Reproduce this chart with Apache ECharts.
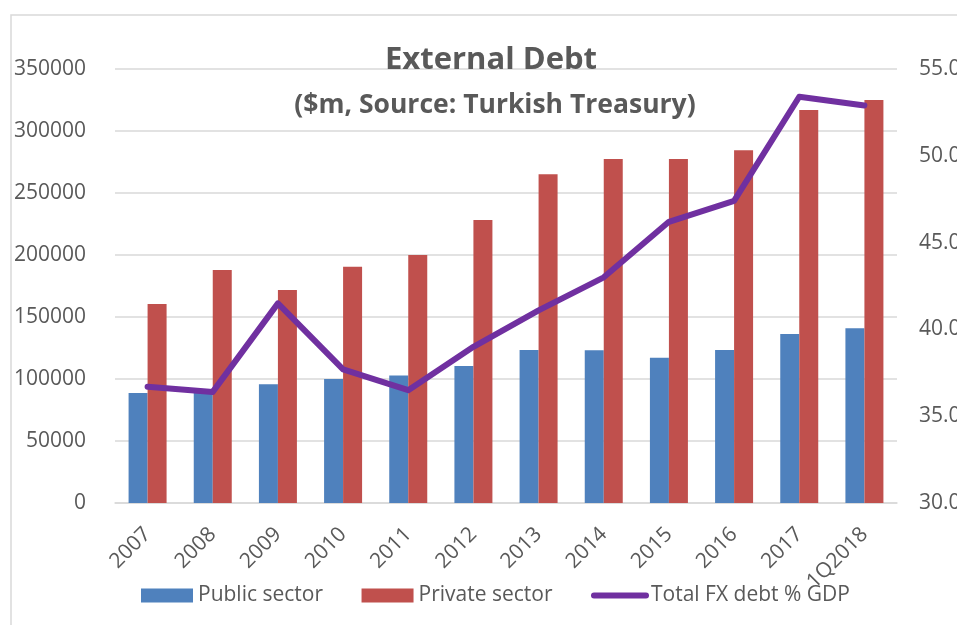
<!DOCTYPE html>
<html><head><meta charset="utf-8">
<script src="https://cdn.jsdelivr.net/npm/echarts@6/dist/echarts.min.js"></script>
<style>html,body{margin:0;padding:0;background:#fff}#c{width:957px;height:625px}</style>
</head><body><div id="c"></div>
<script>
var categories = ['2007','2008','2009','2010','2011','2012','2013','2014','2015','2016','2017','1Q2018'];
var publicSector = [88700, 89500, 95800, 100000, 102800, 110500, 123400, 123200, 117200, 123400, 136300, 141000];
var privateSector = [160500, 188000, 171800, 190600, 200000, 228200, 265100, 277400, 277400, 284400, 317000, 325000];
var fxDebtGdp = [36.7, 36.4, 41.5, 37.7, 36.5, 39.0, 41.1, 43.0, 46.2, 47.4, 53.4, 52.9];
var leftTicks = {min: 0, max: 350000, interval: 50000};
var rightTicks = {min: 30, max: 55, interval: 5};

var FONT = '"Open Sans", "Noto Sans", sans-serif';
var TXT = '#595959';
var chart = echarts.init(document.getElementById('c'), null, {renderer: 'canvas'});
chart.setOption({
  animation: false,
  backgroundColor: '#fff',
  textStyle: {fontFamily: FONT},
  graphic: [{type: 'rect', shape: {x: 11, y: 15, width: 1100, height: 800}, style: {fill: 'none', stroke: '#D9D9D9', lineWidth: 1.5}, silent: true}],
  title: [
    {text: 'External Debt', left: 486, top: 40, textAlign: 'center', textStyle: {fontFamily: FONT, fontWeight: 'bold', fontSize: 31, color: TXT}},
    {text: '($m, Source: Turkish Treasury)', left: 490, top: 87, textAlign: 'center', textStyle: {fontFamily: FONT, fontWeight: 'bold', fontSize: 26.5, color: TXT}}
  ],
  legend: {
    bottom: 14, left: 136, itemWidth: 52, itemHeight: 14, itemGap: 38.5,
    textStyle: {fontFamily: FONT, fontSize: 21, color: TXT},
    data: [
      {name: 'Public sector', icon: 'rect'},
      {name: 'Private sector', icon: 'rect'},
      {name: 'Total FX debt % GDP', itemStyle: {opacity: 0}, lineStyle: {width: 6, color: '#7030A0', cap: 'round'}}
    ]
  },
  grid: {left: 115, right: 60, top: 69, bottom: 122, containLabel: false, outerBoundsMode: 'none'},
  xAxis: {
    type: 'category', data: categories,
    axisLine: {lineStyle: {color: '#D9D9D9', width: 1.5}},
    axisTick: {show: false},
    axisLabel: {rotate: 45, fontFamily: FONT, fontSize: 21, color: TXT, margin: 28, interval: 0}
  },
  yAxis: [
    {type: 'value', min: leftTicks.min, max: leftTicks.max, interval: leftTicks.interval,
     axisLine: {show: false}, axisTick: {show: false},
     splitLine: {lineStyle: {color: '#D9D9D9', width: 1.5}},
     axisLabel: {fontFamily: FONT, fontSize: 21, color: TXT, margin: 29, formatter: function (v) { return String(v); }}},
    {type: 'value', min: rightTicks.min, max: rightTicks.max, interval: rightTicks.interval,
     axisLine: {show: false}, axisTick: {show: false}, splitLine: {show: false},
     axisLabel: {fontFamily: FONT, fontSize: 21, color: TXT, margin: 22, formatter: function (v) { return v.toFixed(1); }}}
  ],
  series: [
    {name: 'Public sector', type: 'bar', data: publicSector, barWidth: 19, barGap: '0%', itemStyle: {color: '#4F81BD'}},
    {name: 'Private sector', type: 'bar', data: privateSector, barWidth: 19, barGap: '0%', itemStyle: {color: '#C0504D'}},
    {name: 'Total FX debt % GDP', type: 'line', yAxisIndex: 1, data: fxDebtGdp, symbol: 'none',
     lineStyle: {color: '#7030A0', width: 6, cap: 'round', join: 'round'}, itemStyle: {color: '#7030A0'}}
  ]
});
</script></body></html>
